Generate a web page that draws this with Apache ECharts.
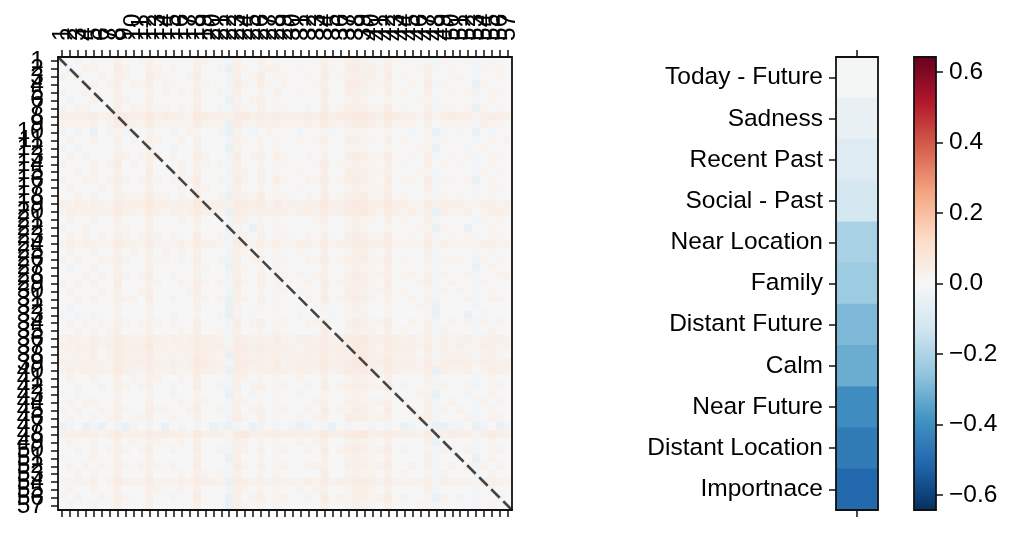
<!DOCTYPE html>
<html>
<head>
<meta charset="utf-8">
<script src="https://cdn.jsdelivr.net/npm/echarts@6/dist/echarts.min.js"></script>
<style>
html, body { margin: 0; padding: 0; background: #fff; }
#chart { width: 1014px; height: 535px; }
</style>
</head>
<body>
<div id="chart"></div>
<script>
// cell shade codes (a = faint blue ... 4 = light orange)
var levelValues = { a: -0.045, b: -0.02, '0': 0.003, '1': 0.022, '2': 0.038, '3': 0.052, '4': 0.066 };

// 57 rows, groups of 10 columns
var matrixRows = [
  "0010b00200 1200000210 0b20020100 0012002211 0201001b10 01b0100",
  "0b01100310 0210100200 1a21012100 1002102312 1200012b01 00b1010",
  "1010010210 0311001300 0b20130110 0103011222 0301002001 10b0010",
  "0000101201 1201100210 0b31021010 0012003321 1200103b10 00a1000",
  "b001000200 0101010300 1b20010200 1003002211 0201002001 01b0110",
  "0b00100210 0200000200 0a10120100 0002001210 0100011b00 00b0100",
  "1011000201 1211010300 1b21020110 0103012221 1301002b11 01a1010",
  "2222312432 2423221432 2134232322 2324233443 2432213123 2212322",
  "1111201321 1311111311 1a31121211 1213112332 1311102011 11b2110",
  "b0b0a0b1b0 0100b01100 ba10b01000 b001b01110 0100b01ab0 b0a0b00",
  "0100100201 0210010200 0b21010100 1012002211 0201001b10 00b0101",
  "b0b0000100 0100b00200 0a10010100 0001001110 0100011a00 0b01000",
  "0101000210 1210100310 0b30120210 0102002321 1300102b01 01b0110",
  "1000101301 0200010210 1b20010110 0013011211 0201002010 10b0100",
  "0010100200 0300010200 0b21020100 1002002221 1200011b00 00b1010",
  "1001101210 1210111300 1b31020210 0113012321 0301103b11 01a0100",
  "0100010200 0200010210 0b20010100 1002001211 1200002b00 00b0110",
  "0010100211 1311010300 1a21130110 0103012231 1301001b10 10b0100",
  "2121211322 2422121422 2133231312 1224223432 2422113122 2112212",
  "1212121321 1321212322 1a32122221 2213123342 1321212a21 1201221",
  "0100100200 0200010200 0b21010100 0012001211 0201002b00 00b1010",
  "b001000110 0200000100 0a10a10100 0001001210 0100011a10 0a00100",
  "0101010210 1210100300 1b21020110 0102002321 1300102b01 01b0110",
  "1212111321 1311121322 1b32121211 2213122332 2311113121 1112211",
  "0100100201 0201010200 0b21010100 1002001221 0200002b00 00b0100",
  "1010011210 0211010300 1b20120110 0113012231 1301002b11 10b1010",
  "0b00100200 0200000210 0a21010100 0002001211 0200001b00 00a0100",
  "0001010210 1300100200 0b20020110 1012002321 1201102b10 01b0011",
  "1010100300 0210010310 1b31020100 0103011221 0300012b01 00b1000",
  "0100010200 1200001200 0b20010110 1002002211 1201001b10 10b0100",
  "0010100211 0300100210 1a21020100 0103012321 0200102b00 01b0110",
  "0b00000100 0100000200 0a10010100 0001001210 0100011a00 00b0000",
  "b0b0b00100 0100b00100 ba10b00000 b000b01110 0100001a00 0a0b000",
  "0101010210 1210100300 0b30120110 0112002321 1300102b01 01b1010",
  "0010101200 0200010200 1b20010100 0003001211 0201002b10 00b0100",
  "1211211321 1321212322 1b32121311 2213123342 2321212b21 1211221",
  "2121212322 2412121322 2133232221 1223223432 1322213121 2112211",
  "1111201321 1311111321 1a32121211 1213122332 1311102b11 11b1210",
  "2121211322 2321212432 1b33221312 2224223442 2422213122 2212212",
  "1212121321 1311211322 1a32122221 2213123332 1321112a21 1201221",
  "0100100201 0210010200 0b21010100 1002001211 0200002b00 00b0100",
  "0010010210 1200100300 1b20120110 0103012221 1301001b10 01b0110",
  "b0b0000100 0100b00100 0a10b00100 b001001110 0100011a00 0b00100",
  "0101100200 0200010210 0b21010100 0012002211 1201002b01 00b1010",
  "1010010210 0311001300 1b20120110 0103011321 0300102b10 10b0100",
  "0100101201 1200100200 0b31020100 1012003221 1200012b00 01b0110",
  "ab0aba0bab 0b0a0b0b0a bab0ab0b0b ab0ba0b00b 0b0ab0baab b0ab0ab",
  "2222212322 2323221422 2134222322 2224223442 2322213123 2212322",
  "0100100201 0210010200 0b21010100 1012001211 0200002a00 00b0100",
  "0010101210 1300100300 1b21020110 0103012321 1301001b11 01b0110",
  "b000100200 0200000200 0a20010100 0002001211 0200002b00 00a0100",
  "0101010210 1210100300 0b31020110 0112002221 1300102b01 01b1010",
  "0010100200 0200010210 1b20010100 0003001211 0201001b10 00b0100",
  "1111201321 1311121322 1a32121211 1213122332 1311112b21 1112211",
  "0100100200 0210010200 0b21010100 1012001221 0200002b00 00b0100",
  "1010010210 0200100300 0a20120110 0103011221 1301001a10 10b0010",
  "0b00100200 0200000200 0a21010100 0002001211 0200011b00 00b0100"
];

var featureNames = ['Today - Future', 'Sadness', 'Recent Past', 'Social - Past', 'Near Location',
  'Family', 'Distant Future', 'Calm', 'Near Future', 'Distant Location', 'Importnace'];
var featureValues = [-0.01, -0.05, -0.085, -0.115, -0.21, -0.235, -0.29, -0.32, -0.405, -0.455, -0.505];

var diagX = [-0.5, 56.5];
var diagY = [-0.5, 56.5];

var colorMin = -0.643;
var colorMax = 0.643;
var barTicks = [-0.6, -0.4, -0.2, 0, 0.2, 0.4, 0.6];
var rdbu = ['#053061', '#2166ac', '#4393c3', '#92c5de', '#d1e5f0', '#f7f7f7',
  '#fddbc7', '#f4a582', '#d6604d', '#b2182b', '#67001f'];

function build_data() {
  var heat = [];
  matrixRows.forEach(function (row, i) {
    var cells = row.replace(/ /g, '');
    for (var j = 0; j < cells.length; j++) {
      heat.push([j, i, levelValues[cells[j]]]);
    }
  });
  var strip = featureValues.map(function (v, i) { return [0, i, v]; });
  return { heat: heat, strip: strip };
}

function cal_option() {
  var d = build_data();
  var idx = matrixRows.map(function (r, i) { return String(i + 1); });
  var font = 'Liberation Sans, Arial, sans-serif';
  var spine = { show: true, onZero: false, lineStyle: { color: '#111', width: 1.8 } };
  var tick = { show: true, interval: 0, alignWithLabel: true, length: 7, lineStyle: { color: '#111', width: 1.5 } };
  var noTick = { show: false };
  var lbl = { color: '#000', fontSize: 24.5, fontFamily: font };

  var gradient = new echarts.graphic.LinearGradient(0, 0, 0, 1,
    rdbu.slice().reverse().map(function (c, i) { return { offset: i / (rdbu.length - 1), color: c }; }));

  return {
    animation: false,
    backgroundColor: '#fff',
    grid: [
      { left: 58, top: 57, width: 454, height: 453 },
      { left: 836, top: 57, width: 42, height: 453 },
      { left: 914, top: 57, width: 22, height: 453 }
    ],
    visualMap: {
      type: 'continuous', show: false, min: colorMin, max: colorMax,
      seriesIndex: [0, 1], inRange: { color: rdbu }
    },
    xAxis: [
      { gridIndex: 0, type: 'category', data: idx, position: 'top', z: 10,
        axisLine: spine, axisTick: tick, splitLine: { show: false },
        axisLabel: Object.assign({ interval: 0, rotate: -90, margin: 16 }, lbl) },
      { gridIndex: 0, type: 'category', data: idx, position: 'bottom', z: 10,
        axisLine: spine, axisTick: tick, axisLabel: { show: false, interval: 0 } },
      { gridIndex: 0, type: 'value', min: -0.5, max: 56.5, show: false },
      { gridIndex: 1, type: 'category', data: ['0'], position: 'top', z: 10,
        axisLine: spine, axisTick: tick, axisLabel: { show: false } },
      { gridIndex: 1, type: 'category', data: ['0'], position: 'bottom', z: 10,
        axisLine: spine, axisTick: tick, axisLabel: { show: false } },
      { gridIndex: 2, type: 'category', data: ['0'], position: 'top', z: 10,
        axisLine: spine, axisTick: noTick, axisLabel: { show: false } },
      { gridIndex: 2, type: 'category', data: ['0'], position: 'bottom', z: 10,
        axisLine: spine, axisTick: noTick, axisLabel: { show: false } }
    ],
    yAxis: [
      { gridIndex: 0, type: 'category', data: idx, inverse: true, position: 'left', z: 10,
        axisLine: spine, axisTick: tick, splitLine: { show: false },
        axisLabel: Object.assign({ interval: 0, margin: 14 }, lbl) },
      { gridIndex: 0, type: 'category', data: idx, inverse: true, position: 'right', z: 10,
        axisLine: spine, axisTick: noTick, axisLabel: { show: false } },
      { gridIndex: 0, type: 'value', min: -0.5, max: 56.5, inverse: true, show: false },
      { gridIndex: 1, type: 'category', data: featureNames, inverse: true, position: 'left', z: 10,
        axisLine: spine, axisTick: tick,
        axisLabel: Object.assign({ interval: 0, margin: 13 }, lbl) },
      { gridIndex: 1, type: 'category', data: featureNames, inverse: true, position: 'right', z: 10,
        axisLine: spine, axisTick: noTick, axisLabel: { show: false } },
      { gridIndex: 2, type: 'value', min: colorMin, max: colorMax, position: 'right', z: 10,
        axisLine: spine, splitLine: { show: false },
        axisTick: { show: true, length: 7, customValues: barTicks, lineStyle: { color: '#111', width: 1.5 } },
        axisLabel: Object.assign({
          margin: 13, customValues: barTicks,
          formatter: function (v) { return v.toFixed(1).replace('-', '\u2212'); }
        }, lbl) },
      { gridIndex: 2, type: 'value', min: colorMin, max: colorMax, position: 'left', z: 10,
        axisLine: spine, axisTick: noTick, axisLabel: { show: false }, splitLine: { show: false } }
    ],
    series: [
      { type: 'heatmap', xAxisIndex: 0, yAxisIndex: 0, data: d.heat },
      { type: 'heatmap', xAxisIndex: 3, yAxisIndex: 3, data: d.strip },
      { type: 'line', xAxisIndex: 2, yAxisIndex: 2, z: 5, symbol: 'none', silent: true,
        data: [[diagX[0], diagY[0]], [diagX[1], diagY[1]]],
        lineStyle: { color: '#444', width: 2.6, type: [12, 5] } },
      { type: 'custom', xAxisIndex: 5, yAxisIndex: 5, data: [[0, colorMin, colorMax]],
        renderItem: function (params, api) {
          var top = api.coord([api.value(0), api.value(2)]);
          var bot = api.coord([api.value(0), api.value(1)]);
          var w = api.size([1, 0])[0];
          return { type: 'rect', shape: { x: top[0] - w / 2, y: top[1], width: w, height: bot[1] - top[1] },
            style: { fill: gradient } };
        } }
    ]
  };
}

function draw_chart() {
  var myChart = echarts.init(document.getElementById('chart'));
  myChart.setOption(cal_option());
}

draw_chart();
</script>
</body>
</html>
